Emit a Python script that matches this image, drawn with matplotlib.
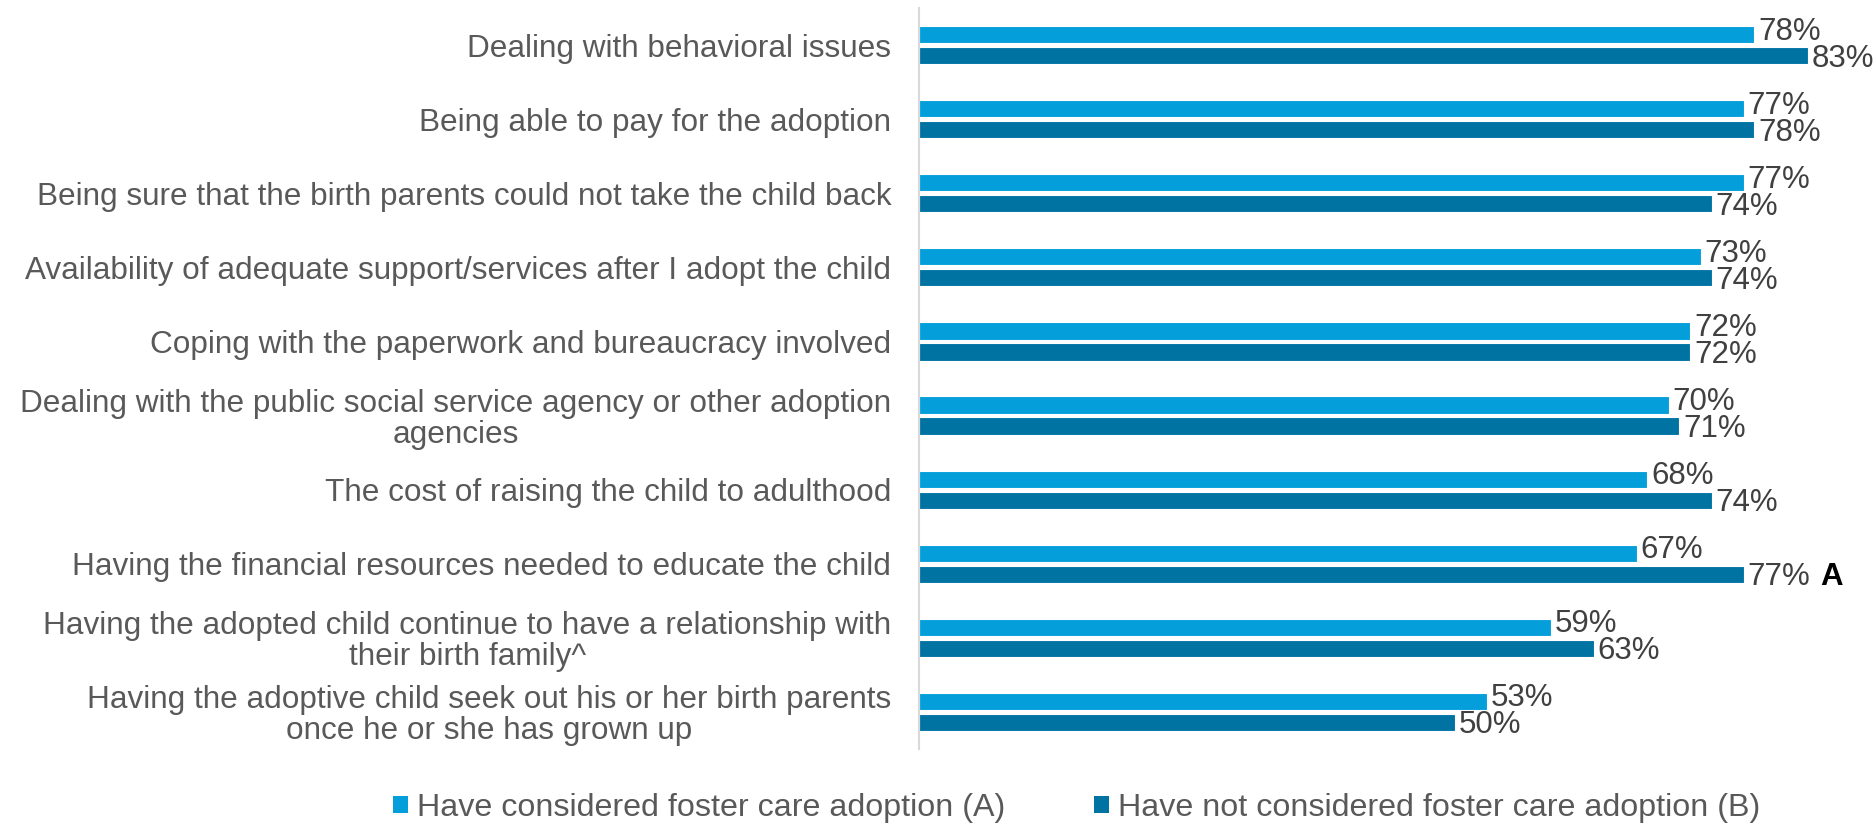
import matplotlib
matplotlib.use("Agg")
import matplotlib.pyplot as plt
import numpy as np

plt.rcParams['font.family'] = ['Liberation Sans', 'DejaVu Sans']

categories = [
    "Dealing with behavioral issues",
    "Being able to pay for the adoption",
    "Being sure that the birth parents could not take the child back",
    "Availability of adequate support/services after I adopt the child",
    "Coping with the paperwork and bureaucracy involved",
    "Dealing with the public social service agency or other adoption\nagencies",
    "The cost of raising the child to adulthood",
    "Having the financial resources needed to educate the child",
    "Having the adopted child continue to have a relationship with\ntheir birth family^",
    "Having the adoptive child seek out his or her birth parents\nonce he or she has grown up",
]
considered = [78, 77, 77, 73, 72, 70, 68, 67, 59, 53]
not_considered = [83, 78, 74, 74, 72, 71, 74, 77, 63, 50]
sig_not_considered = ["", "", "", "", "", "", "", "A", "", ""]

series_names = ["Have considered foster care adoption (A)",
                "Have not considered foster care adoption (B)"]
colors = ["#049FDA", "#0173A3"]

W, H = 1875, 823
fig = plt.figure(figsize=(W / 100, H / 100), dpi=100)
ax = fig.add_axes([919 / W, 1 - 749 / H, 1 - 919 / W, (749 - 8) / H])

fs_cat = 22.7
fs_val = 22.5
y = np.arange(len(categories))
h = 0.232
off = 0.142

bars_a = ax.barh(y - off, considered, height=h, color=colors[0],
                 edgecolor="white", linewidth=0.8, label=series_names[0])
bars_b = ax.barh(y + off, not_considered, height=h, color=colors[1],
                 edgecolor="white", linewidth=0.8, label=series_names[1])

# value labels: upper bar's label nudged up, lower bar's nudged down
for vals, yy, dy in ((considered, y - off, 3), (not_considered, y + off, -3)):
    for v, yi in zip(vals, yy):
        ax.annotate(f"{v}%", xy=(v, yi), xytext=(4, dy),
                    textcoords="offset pixels", ha="left", va="center",
                    fontsize=fs_val, color="#404040", annotation_clip=False)

for yi, v, s in zip(y, not_considered, sig_not_considered):
    if s:
        ax.annotate(s, xy=(v, yi + off), xytext=(77, -3),
                    textcoords="offset pixels", ha="left", va="center",
                    fontsize=fs_val, fontweight="bold", color="black",
                    annotation_clip=False)

ax.set_xlim(0, (W - 919) / 10.71)
ax.set_ylim(len(categories) - 0.5, -0.5)
ax.set_yticks(y)
ax.set_yticklabels(categories, fontsize=fs_cat, color="#595959", linespacing=1.02)
for lbl in ax.get_yticklabels():
    lbl.set_multialignment("center")
ax.tick_params(axis="y", length=0, pad=20)
ax.xaxis.set_visible(False)
for side in ("top", "right", "bottom"):
    ax.spines[side].set_visible(False)
ax.spines["left"].set_color("#D9D9D9")
ax.spines["left"].set_linewidth(1.5)

leg = fig.legend(handles=[bars_a, bars_b], labels=series_names,
                 loc="center left", bbox_to_anchor=(393 / W, 1 - 808 / H),
                 ncol=2, frameon=False, fontsize=23.2, labelcolor="#595959",
                 handlelength=0.47, handleheight=0.47, handletextpad=0.27,
                 columnspacing=2.75, borderpad=0, borderaxespad=0)
for patch in leg.get_patches():
    patch.set_edgecolor("none")

fig.savefig("out.png", dpi=100, facecolor="white")
